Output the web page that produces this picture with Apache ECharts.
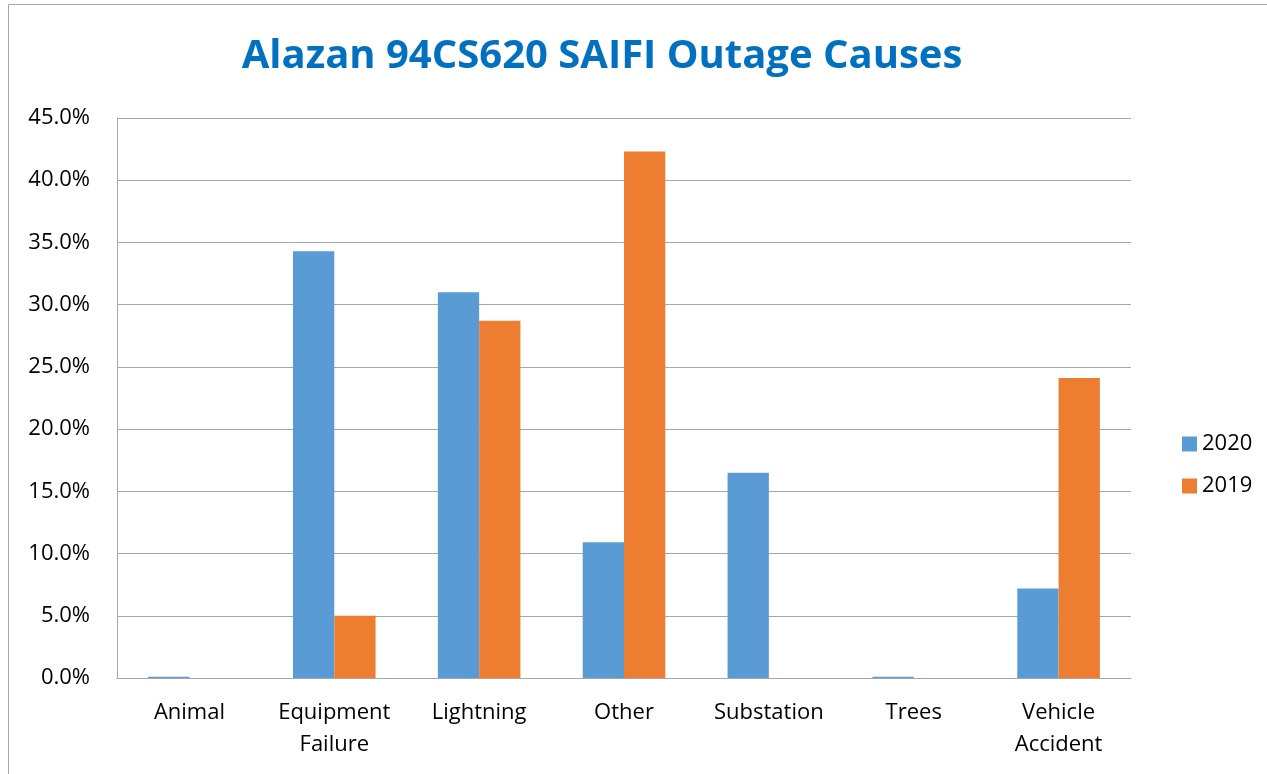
<!DOCTYPE html>
<html>
<head>
<meta charset="utf-8">
<script src="https://cdn.jsdelivr.net/npm/echarts@6/dist/echarts.min.js"></script>
<style>
  html, body { margin: 0; padding: 0; background: #fff; }
  #main { width: 1267px; height: 774px; }
</style>
</head>
<body>
<div id="main"></div>
<script>
var causes = ['Animal', 'Equipment\nFailure', 'Lightning', 'Other', 'Substation', 'Trees', 'Vehicle\nAccident'];
var y2020 = [0.1, 34.3, 31.0, 10.9, 16.5, 0.1, 7.2];
var y2019 = [0, 5.0, 28.7, 42.3, 0, 0, 24.1];

var font = 'Open Sans';
var myChart = echarts.init(document.getElementById('main'));

myChart.setOption({
    animation: false,
    title: {
        text: 'Alazan 94CS620 SAIFI Outage Causes',
        left: 597,
        textAlign: 'center',
        top: 32,
        textStyle: { color: '#0070c0', fontFamily: font, fontWeight: 'bold', fontSize: 40 }
    },
    graphic: [{
        type: 'rect',
        shape: { x: 8.5, y: 4.5, width: 1300, height: 800 },
        style: { fill: 'none', stroke: '#a6a6a6', lineWidth: 1 },
        silent: true
    }],
    legend: {
        orient: 'vertical',
        left: 1177,
        top: 428,
        itemWidth: 15,
        itemHeight: 15,
        itemGap: 20,
        icon: 'rect',
        data: ['2020', '2019'],
        textStyle: { fontFamily: font, fontSize: 22, color: '#000' }
    },
    grid: { left: 117, right: 136, top: 118, bottom: 96 },
    xAxis: {
        type: 'category',
        data: causes,
        axisLine: { lineStyle: { color: '#a6a6a6' } },
        axisTick: { show: false },
        axisLabel: { interval: 0, fontFamily: font, fontSize: 22, color: '#000', margin: 19, lineHeight: 32 }
    },
    yAxis: {
        type: 'value',
        min: 0,
        max: 45,
        interval: 5,
        axisLine: { show: true, lineStyle: { color: '#a6a6a6' } },
        axisTick: { show: false },
        splitLine: { lineStyle: { color: '#a6a6a6' } },
        axisLabel: {
            fontFamily: font, fontSize: 22, color: '#000', margin: 27,
            formatter: function (v) { return v.toFixed(1) + '%'; }
        }
    },
    series: [
        { name: '2020', type: 'bar', data: y2020, barGap: '0%', barCategoryGap: '43%', itemStyle: { color: '#5b9bd5' } },
        { name: '2019', type: 'bar', data: y2019, itemStyle: { color: '#ed7d31' } }
    ]
});
</script>
</body>
</html>
